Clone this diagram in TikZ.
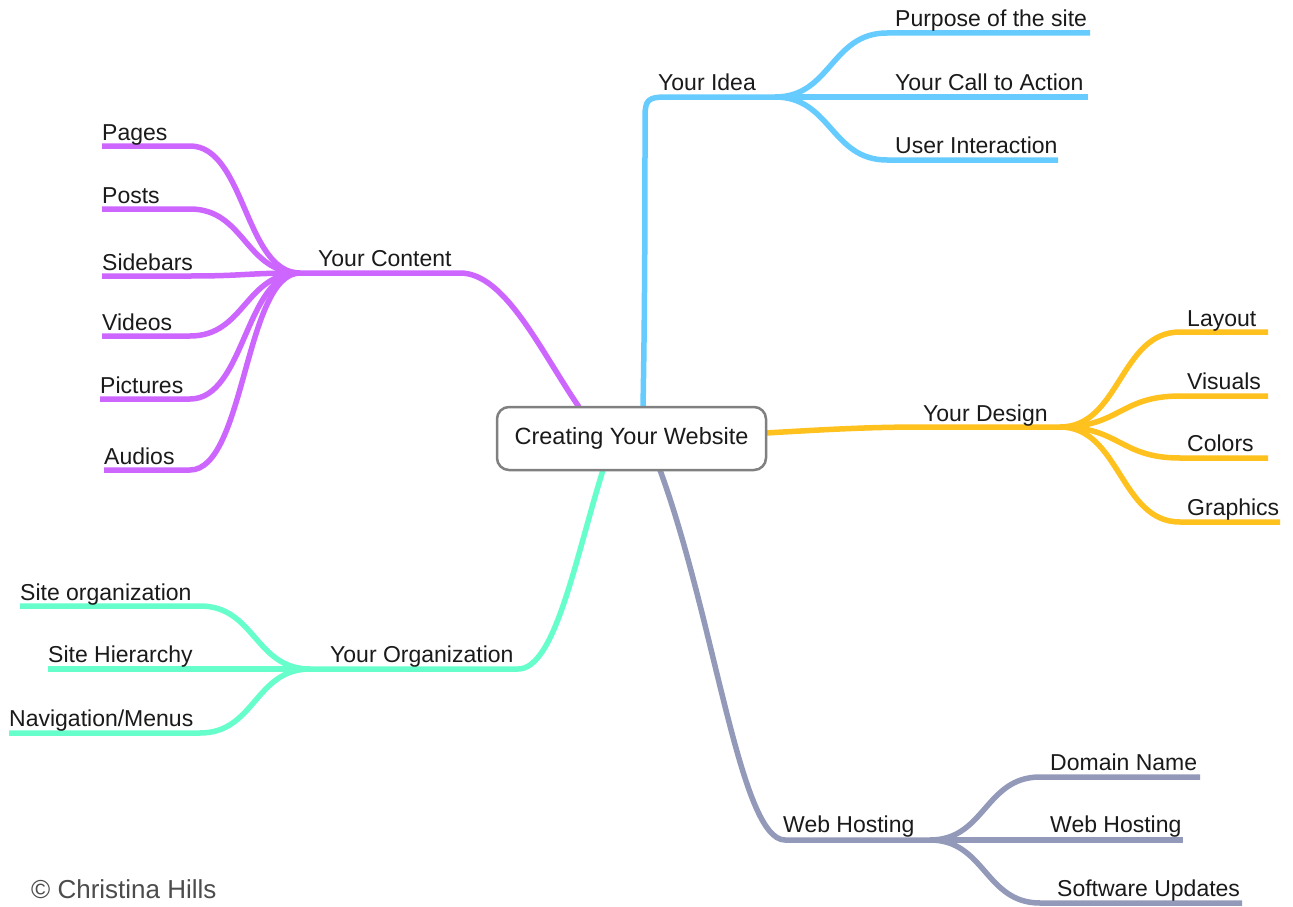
\documentclass[tikz,border=0pt]{standalone}
\usepackage{fontspec}
\setmainfont{Liberation Sans}
\usetikzlibrary{calc}
\definecolor{cblue}{HTML}{66CCFF}
\definecolor{cpurple}{HTML}{CC66FF}
\definecolor{cyellow}{HTML}{FFC11E}
\definecolor{cgreen}{HTML}{66FFCC}
\definecolor{cslate}{HTML}{939AB9}
\definecolor{ctext}{HTML}{1A1A1A}
\tikzset{
  branch/.style={line width=5.5pt, line join=round},
  sbend/.style={to path={let \p1=(\tikztostart), \p2=(\tikztotarget) in
      .. controls ({0.5*\x1+0.5*\x2},\y1) and ({0.5*\x1+0.5*\x2},\y2) .. (\tikztotarget)}},
  lbl/.style={anchor=base west, inner sep=0pt, text=ctext, font=\fontsize{23}{27}\selectfont},
  rootbox/.style={draw=black!50, line width=2.5pt, rounded corners=12pt, fill=white,
      minimum width=269pt, minimum height=63pt, inner sep=0pt, text=ctext,
      font=\fontsize{23.5}{27}\selectfont},
}
\begin{document}
\begin{tikzpicture}[x=1pt,y=-1pt]
\useasboundingbox (0,0) rectangle (1293,907);
\fill[white] (0,0) rectangle (1293,907);

% ---------- coordinates ----------
% blue (Your Idea)
\coordinate (bS) at (643,407);
\coordinate (bBend) at (666,97);
\coordinate (bFork) at (775,97);
\coordinate (b1a) at (887,33);   \coordinate (b1b) at (1090,33);
\coordinate (b2b) at (1088,97);
\coordinate (b3a) at (887,160);  \coordinate (b3b) at (1058,160);
% purple (Your Content)
\coordinate (pS) at (579,407);
\coordinate (pBend) at (460,273);
\coordinate (pFork) at (300,273);
\coordinate (p1a) at (190,146); \coordinate (p1b) at (102,146);
\coordinate (p2a) at (190,209); \coordinate (p2b) at (102,209);
\coordinate (p3a) at (190,276); \coordinate (p3b) at (102,276);
\coordinate (p4a) at (190,336); \coordinate (p4b) at (102,336);
\coordinate (p5a) at (190,399); \coordinate (p5b) at (100,399);
\coordinate (p6a) at (190,470); \coordinate (p6b) at (104,470);
% yellow (Your Design)
\coordinate (yS) at (766,433);
\coordinate (yBend) at (930,427);
\coordinate (yFork) at (1060,427);
\coordinate (y1a) at (1180,332); \coordinate (y1b) at (1268,332);
\coordinate (y2a) at (1180,396); \coordinate (y2b) at (1268,396);
\coordinate (y3a) at (1180,458); \coordinate (y3b) at (1268,458);
\coordinate (y4a) at (1180,522); \coordinate (y4b) at (1280,522);
% green (Your Organization)
\coordinate (gS) at (603,470);
\coordinate (gBend) at (518,669);
\coordinate (gFork) at (310,669);
\coordinate (g1a) at (200,606); \coordinate (g1b) at (20,606);
\coordinate (g2b) at (48,669);
\coordinate (g3a) at (200,733); \coordinate (g3b) at (9,733);
% slate (Web Hosting)
\coordinate (sS) at (660,470);
\coordinate (sBend) at (785,840);
\coordinate (sFork) at (930,840);
\coordinate (s1a) at (1040,777); \coordinate (s1b) at (1200,777);
\coordinate (s2b) at (1183,840);
\coordinate (s3a) at (1040,903); \coordinate (s3b) at (1242,903);

% ---------- branches ----------
\begin{scope}[branch, cblue]
  \draw (bS) .. controls (645,300) and (645,200) .. (645,117)
        .. controls (645,100) and (648,97) .. (bBend) -- (bFork);
  \draw (bFork) to[sbend] (b1a) -- (b1b);
  \draw (bFork) -- (b2b);
  \draw (bFork) to[sbend] (b3a) -- (b3b);
\end{scope}
\begin{scope}[branch, cpurple]
  \draw (pS) .. controls (540,350) and (505,273) .. (pBend) -- (pFork);
  \draw (pFork) to[sbend] (p1a) -- (p1b);
  \draw (pFork) to[sbend] (p2a) -- (p2b);
  \draw (pFork) to[sbend] (p3a) -- (p3b);
  \draw (pFork) to[sbend] (p4a) -- (p4b);
  \draw (pFork) to[sbend] (p5a) -- (p5b);
  \draw (pFork) to[sbend] (p6a) -- (p6b);
\end{scope}
\begin{scope}[branch, cyellow]
  \draw (yS) .. controls (850,428) and (880,427) .. (yBend) -- (yFork);
  \draw (yFork) to[sbend] (y1a) -- (y1b);
  \draw (yFork) to[sbend] (y2a) -- (y2b);
  \draw (yFork) to[sbend] (y3a) -- (y3b);
  \draw (yFork) to[sbend] (y4a) -- (y4b);
\end{scope}
\begin{scope}[branch, cgreen]
  \draw (gS) .. controls (575,560) and (555,669) .. (gBend) -- (gFork);
  \draw (gFork) to[sbend] (g1a) -- (g1b);
  \draw (gFork) -- (g2b);
  \draw (gFork) to[sbend] (g3a) -- (g3b);
\end{scope}
\begin{scope}[branch, cslate]
  \draw (sS) .. controls (715,620) and (740,840) .. (sBend) -- (sFork);
  \draw (sFork) to[sbend] (s1a) -- (s1b);
  \draw (sFork) -- (s2b);
  \draw (sFork) to[sbend] (s3a) -- (s3b);
\end{scope}

% ---------- root ----------
\node[rootbox] (root) at (631.5,438.5) {Creating Your Website};

% ---------- labels ----------
\node[lbl] (tIdea) at (658,90) {Your Idea};
\node[lbl] (tPurpose) at (895,27) {Purpose of the site};
\node[lbl] (tCall) at (895,90) {Your Call to Action};
\node[lbl] (tUser) at (895,153) {User Interaction};

\node[lbl] (tContent) at (318,266) {Your Content};
\node[lbl] (tPages) at (102,140) {Pages};
\node[lbl] (tPosts) at (102,203) {Posts};
\node[lbl] (tSidebars) at (102,270) {Sidebars};
\node[lbl] (tVideos) at (102,330) {Videos};
\node[lbl] (tPictures) at (100,393) {Pictures};
\node[lbl] (tAudios) at (104,464) {Audios};

\node[lbl] (tDesign) at (923,421) {Your Design};
\node[lbl] (tLayout) at (1187,326) {Layout};
\node[lbl] (tVisuals) at (1187,389) {Visuals};
\node[lbl] (tColors) at (1187,451) {Colors};
\node[lbl] (tGraphics) at (1187,515) {Graphics};

\node[lbl] (tOrg) at (330,662) {Your Organization};
\node[lbl] (tSiteOrg) at (20,600) {Site organization};
\node[lbl] (tHier) at (48,662) {Site Hierarchy};
\node[lbl] (tNav) at (9,726) {Navigation/Menus};

\node[lbl] (tHosting) at (783,832) {Web Hosting};
\node[lbl] (tDomain) at (1050,770) {Domain Name};
\node[lbl] (tWebH) at (1050,832) {Web Hosting};
\node[lbl] (tSoft) at (1057,896) {Software Updates};

\node[anchor=base west, inner sep=0pt, text=black!70, font=\fontsize{26}{30}\selectfont]
  (copy) at (31,898) {© Christina Hills};
\end{tikzpicture}
\end{document}
